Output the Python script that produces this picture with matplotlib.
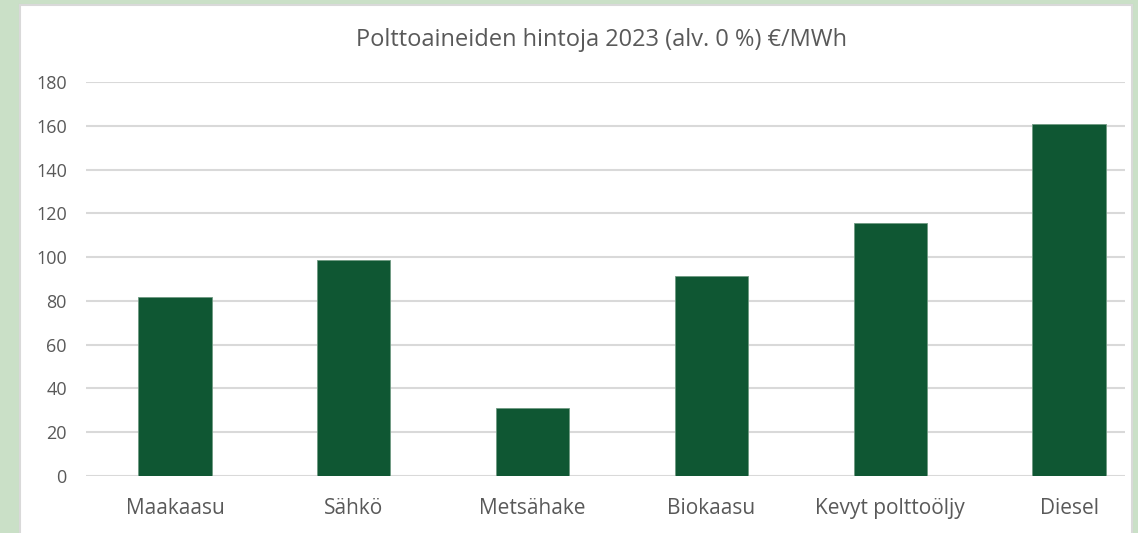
import matplotlib
matplotlib.use("Agg")
import matplotlib.pyplot as plt

categories = ["Maakaasu", "Sähkö", "Metsähake", "Biokaasu", "Kevyt polttoöljy", "Diesel"]
values = [82, 98.5, 31, 91.5, 115.5, 161]
yticks = [0, 20, 40, 60, 80, 100, 120, 140, 160, 180]
title = "Polttoaineiden hintoja 2023 (alv. 0 %) €/MWh"

plt.rcParams['font.family'] = ['Open Sans', 'DejaVu Sans']
W, H = 1138, 533
fig = plt.figure(figsize=(W / 100, H / 100), dpi=100)
fig.patch.set_facecolor("#cae0c7")

# white chart panel
bg = fig.add_axes([20 / W, -0.02, (1132 - 20) / W, (H - 5) / H + 0.02], zorder=0)
bg.set_facecolor("white")
bg.set_xticks([])
bg.set_yticks([])
for s in bg.spines.values():
    s.set_color("#d9d9d9")
    s.set_linewidth(1.5)

ax = fig.add_axes([85.6 / W, 57 / H, (1125 - 85.6) / W, 394 / H], zorder=1)
ax.set_facecolor("none")
x = list(range(len(categories)))
ax.bar(x, values, width=0.41, color="#0f5733", edgecolor="#6f9a82", linewidth=0.6, zorder=3)
ax.set_xlim(-0.5, (1125 - 175) / 178.8)
ax.set_ylim(0, 180)
ax.set_yticks(yticks)
ax.set_yticklabels([str(v) for v in yticks])
ax.set_xticks(x)
ax.set_xticklabels(categories)
ax.grid(axis="y", color="#d9d9d9", linewidth=1.5, zorder=0)
ax.set_axisbelow(True)
for s in ax.spines.values():
    s.set_visible(False)
ax.tick_params(axis="both", length=0, colors="#595959")
ax.tick_params(axis="y", labelsize=13, pad=13.5)
ax.tick_params(axis="x", labelsize=15, pad=16)

fig.text(602 / W, 1 - 40 / H, title, ha="center", va="center", fontsize=17, color="#595959")

fig.savefig("out.png", dpi=100, facecolor=fig.get_facecolor())
